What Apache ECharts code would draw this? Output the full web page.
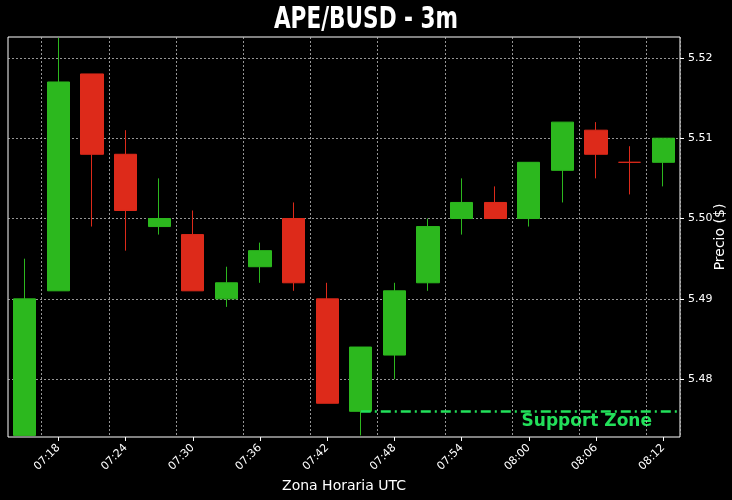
<!DOCTYPE html>
<html><head><meta charset="utf-8">
<script src="https://cdn.jsdelivr.net/npm/echarts@6/dist/echarts.min.js"></script>
<style>html,body{margin:0;background:#000}#c{width:732px;height:500px}</style>
</head><body><div id="c"></div>
<script>
var categories=['07:15','07:18','07:21','07:24','07:27','07:30','07:33','07:36','07:39','07:42','07:45','07:48','07:51','07:54','07:57','08:00','08:03','08:06','08:09','08:12'];
var opens =[5.473,5.491,5.518,5.508,5.499,5.498,5.490,5.494,5.500,5.490,5.476,5.483,5.492,5.500,5.502,5.500,5.506,5.511,5.507,5.507];
var closes=[5.490,5.517,5.508,5.501,5.500,5.491,5.492,5.496,5.492,5.477,5.484,5.491,5.499,5.502,5.500,5.507,5.512,5.508,5.507,5.510];
var lows  =[5.473,5.491,5.499,5.496,5.498,5.491,5.489,5.492,5.491,5.477,5.473,5.480,5.491,5.498,5.500,5.499,5.502,5.505,5.503,5.504];
var highs =[5.495,5.5225,5.518,5.511,5.505,5.501,5.494,5.497,5.502,5.492,5.484,5.492,5.500,5.505,5.504,5.507,5.512,5.512,5.509,5.510];
var yTicks=[5.48,5.49,5.50,5.51,5.52];
var supportLevel=5.476;
var green='#2cb81e', red='#dd2a1a', sup='#22e05a';
var data=categories.map(function(c,i){return [opens[i],closes[i],lows[i],highs[i]];});
var chart=echarts.init(document.getElementById('c'));
chart.setOption({
 backgroundColor:'#000',animation:false,
 grid:{left:8,right:52,top:37,bottom:63,show:true,borderColor:'#fff',borderWidth:1,outerBoundsMode:'none',containLabel:false},
 xAxis:{type:'category',data:categories,boundaryGap:true,
  axisLine:{show:false},axisTick:{show:true,length:4,alignWithLabel:true,interval:function(i){return i%2==1;},lineStyle:{color:'#fff'}},
  axisLabel:{color:'#fff',rotate:45,fontSize:11,margin:9,interval:function(i){return i%2==1;},fontFamily:'DejaVu Sans'},
  splitLine:{show:true,interval:function(i){return i%2==1;},lineStyle:{color:'#bbb',type:[2,2],width:0.8}},
  name:'Zona Horaria UTC',nameLocation:'middle',nameGap:40,nameTextStyle:{color:'#fff',fontSize:14,fontFamily:'DejaVu Sans'}},
 yAxis:{type:'value',position:'right',min:5.4728,max:5.5226,scale:true,
  axisLine:{show:false},
  axisTick:{show:true,length:4,customValues:yTicks,lineStyle:{color:'#fff'}},
  axisLabel:{color:'#fff',fontSize:11,customValues:yTicks,fontFamily:'DejaVu Sans',formatter:function(v){return v.toFixed(2);}},
  splitLine:{show:true,lineStyle:{color:'#bbb',type:[2,2],width:0.8}}},
 series:[{type:'candlestick',data:data,barWidth:'68%',
  itemStyle:{color:green,color0:red,borderColor:green,borderColor0:red,borderWidth:1},
  markLine:{symbol:'none',silent:true,label:{show:false},
   lineStyle:{color:sup,width:2.5,type:[10,4,2,4]},
   data:[[{coord:[10,supportLevel]},{x:680,yAxis:supportLevel}]]}
 }],
 graphic:[
  {type:'text',x:366,y:5,scaleX:0.72,style:{text:'APE/BUSD - 3m',fill:'#fff',fontSize:30,fontWeight:'bold',fontFamily:'DejaVu Sans',align:'center'}},
  {type:'text',x:720,y:237,rotation:Math.PI/2,style:{text:'Precio ($)',fill:'#fff',fontSize:14,fontFamily:'DejaVu Sans',align:'center',verticalAlign:'middle'}},
  {type:'text',right:80,top:413,style:{text:'Support Zone',fill:sup,fontSize:17,fontWeight:'bold',fontFamily:'DejaVu Sans'}}]
});
</script></body></html>
